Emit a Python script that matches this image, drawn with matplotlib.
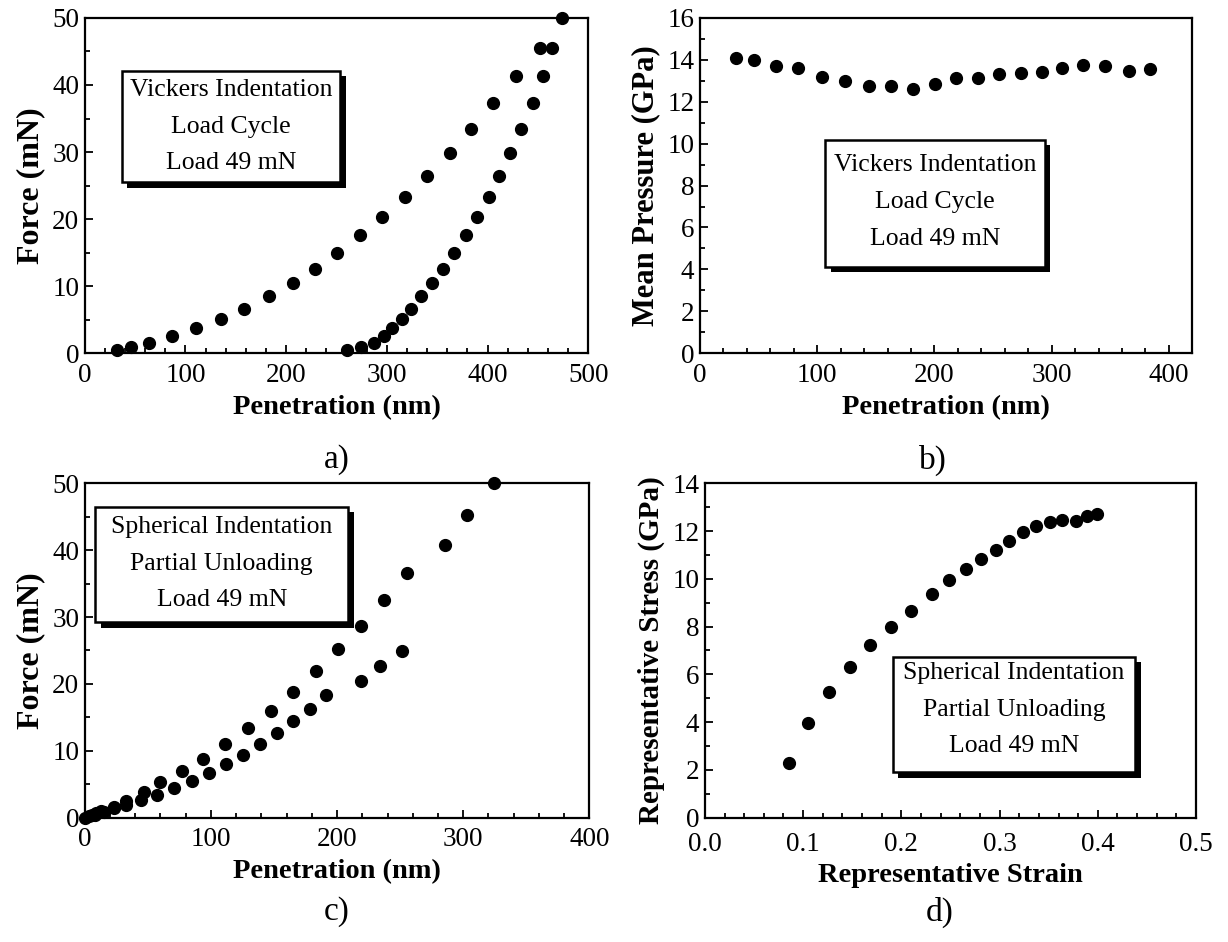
import matplotlib
matplotlib.use("Agg")
import matplotlib.pyplot as plt
import matplotlib.patheffects as pe
from matplotlib.patches import Rectangle
from matplotlib.ticker import MultipleLocator, FormatStrFormatter

plt.rcParams['font.family'] = ['Liberation Serif', 'DejaVu Serif']

# --- a) Vickers, load cycle ---
a_load_x = [31.6, 45.8, 64.3, 86.8, 110.1, 135.0, 158.6, 183.1, 206.4, 228.9, 251.0,
            273.5, 295.6, 317.7, 339.8, 362.3, 384.0, 405.7, 428.2, 452.6, 474.0]
a_load_y = [0.5, 0.9, 1.6, 2.6, 3.7, 5.1, 6.6, 8.5, 10.4, 12.6, 15.0,
            17.6, 20.3, 23.3, 26.5, 29.9, 33.5, 37.3, 41.3, 45.5, 50.0]
a_unload_x = [260.5, 273.9, 286.9, 296.8, 305.4, 314.9, 324.4, 334.3, 344.5, 355.6,
              366.6, 378.5, 389.1, 401.0, 411.6, 422.6, 433.3, 444.8, 455.4, 464.1]
a_unload_y = [0.5, 0.9, 1.6, 2.6, 3.7, 5.1, 6.6, 8.5, 10.4, 12.6,
              15.0, 17.6, 20.3, 23.3, 26.5, 29.9, 33.5, 37.3, 41.3, 45.5]

# --- b) mean pressure ---
b_x = [31.1, 46.3, 64.8, 84.0, 104.5, 124.0, 144.1, 163.0, 181.8, 200.3,
       218.5, 237.4, 255.2, 273.7, 291.6, 309.1, 326.6, 345.5, 366.3, 384.1]
b_y = [14.10, 14.01, 13.72, 13.62, 13.16, 12.98, 12.73, 12.76, 12.60, 12.84,
       13.14, 13.14, 13.32, 13.37, 13.40, 13.61, 13.75, 13.72, 13.49, 13.56]

# --- c) spherical, partial unloading ---
c_load_x = [0, 3, 6, 9, 13.2, 23.0, 32.8, 47.0, 59.9, 77.0, 93.7, 111.0, 129.7, 148.0,
            165.3, 183.3, 200.6, 218.9, 236.9, 255.2, 285.2, 303.2, 324.3]
c_load_y = [0, 0.2, 0.45, 0.7, 1.05, 1.59, 2.49, 3.84, 5.33, 6.97, 8.81, 10.96, 13.35, 15.99,
            18.78, 21.91, 25.15, 28.73, 32.47, 36.55, 40.84, 45.27, 50.0]
c_unload_x = [8, 15, 23.3, 32.8, 44.5, 57.1, 71.0, 84.9, 98.7, 112.3, 125.6, 138.8,
              152.4, 165.3, 178.5, 191.5, 218.9, 234.4, 251.1]
c_unload_y = [0.4, 0.8, 1.39, 1.84, 2.59, 3.34, 4.38, 5.48, 6.72, 7.97, 9.41, 10.96,
              12.65, 14.44, 16.28, 18.28, 20.37, 22.66, 24.9]

# --- d) representative stress-strain ---
d_x = [0.086, 0.105, 0.126, 0.148, 0.168, 0.189, 0.210, 0.231, 0.249, 0.266,
       0.281, 0.296, 0.310, 0.324, 0.337, 0.351, 0.364, 0.378, 0.389, 0.399]
d_y = [2.30, 3.95, 5.25, 6.31, 7.22, 7.98, 8.65, 9.35, 9.94, 10.42,
       10.81, 11.22, 11.60, 11.94, 12.22, 12.36, 12.47, 12.42, 12.61, 12.71]

vickers_txt = ["Vickers Indentation", "Load Cycle", "Load 49 mN"]
sphere_txt = ["Spherical Indentation", "Partial Unloading", "Load 49 mN"]


def style(ax, xlim, ylim, xmaj, xmin, ymaj, ymin, xlabel, ylabel, ysize, xpad=7):
    ax.set_xlim(*xlim)
    ax.set_ylim(*ylim)
    ax.xaxis.set_major_locator(MultipleLocator(xmaj))
    ax.xaxis.set_minor_locator(MultipleLocator(xmin))
    ax.yaxis.set_major_locator(MultipleLocator(ymaj))
    ax.yaxis.set_minor_locator(MultipleLocator(ymin))
    ax.tick_params(which='both', direction='in', top=False, right=False,
                   labelsize=19.5, width=1.3)
    ax.tick_params(axis='x', pad=xpad)
    ax.tick_params(axis='y', pad=4)
    ax.tick_params(which='major', length=6)
    ax.tick_params(which='minor', length=3.5)
    for s in ax.spines.values():
        s.set_linewidth(1.6)
    ax.set_xlabel(xlabel, fontsize=20.5, fontweight='bold', labelpad=5)
    ax.set_ylabel(ylabel, fontsize=ysize, fontweight='bold', labelpad=5)


def note(ax, x0, x1, y0, y1, lines_y, lines):
    r = Rectangle((x0, y0), x1 - x0, y1 - y0, facecolor='white', edgecolor='black',
                  linewidth=1.8, zorder=4)
    r.set_path_effects([pe.SimplePatchShadow(offset=(4, -4), shadow_rgbFace='black', alpha=1),
                        pe.Normal()])
    ax.add_patch(r)
    for yy, t in zip(lines_y, lines):
        ax.text((x0 + x1) / 2, yy, t, ha='center', va='center', fontsize=18.5, zorder=5)


fig = plt.figure(figsize=(12.28, 9.42), dpi=100)
ax_a = fig.add_axes([0.069, 0.625, 0.410, 0.356])
ax_b = fig.add_axes([0.570, 0.625, 0.401, 0.356])
ax_c = fig.add_axes([0.069, 0.132, 0.411, 0.355])
ax_d = fig.add_axes([0.574, 0.132, 0.400, 0.355])

mk = dict(marker='o', linestyle='none', color='black', markersize=8.5, clip_on=False, zorder=3)

ax_a.plot(a_load_x, a_load_y, **mk)
ax_a.plot(a_unload_x, a_unload_y, **mk)
style(ax_a, (0, 500), (0, 50), 100, 20, 10, 5, "Penetration (nm)", "Force (mN)", 23)
note(ax_a, 36.7, 253.7, 25.5, 42.1, [39.3, 33.8, 28.3], vickers_txt)

ax_b.plot(b_x, b_y, **mk)
style(ax_b, (0, 420), (0, 16), 100, 20, 2, 1, "Penetration (nm)", "Mean Pressure (GPa)", 22)
note(ax_b, 106.8, 294, 4.12, 10.18, [8.98, 7.23, 5.47], vickers_txt)

ax_c.plot(c_load_x, c_load_y, **mk)
ax_c.plot(c_unload_x, c_unload_y, **mk)
style(ax_c, (0, 400), (0, 50), 100, 20, 10, 5, "Penetration (nm)", "Force (mN)", 23)
note(ax_c, 8.2, 209, 29.2, 46.5, [43.4, 37.9, 32.6], sphere_txt)

ax_d.plot(d_x, d_y, **mk)
style(ax_d, (0, 0.5), (0, 14), 0.1, 0.02, 2, 1, "Representative Strain",
      "Representative Stress (GPa)", 21, xpad=10)
ax_d.xaxis.set_major_formatter(FormatStrFormatter('%.1f'))
note(ax_d, 0.191, 0.438, 1.9, 6.73, [6.04, 4.49, 3.02], sphere_txt)

for lab, (x, y) in {"a)": (337, 460), "b)": (933, 460), "c)": (337, 912), "d)": (940, 912)}.items():
    fig.text(x / 1228, 1 - y / 942, lab, ha='center', va='center', fontsize=24)

fig.savefig("out.png", dpi=100)
